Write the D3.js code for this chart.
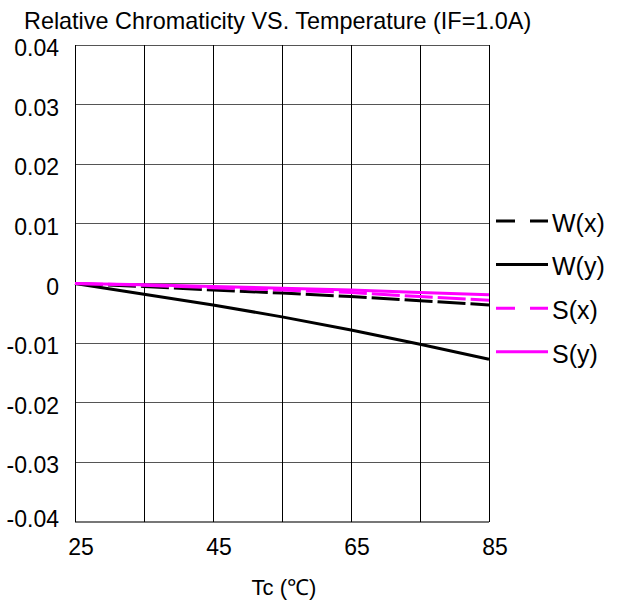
<!DOCTYPE html>
<html>
<head>
<meta charset="utf-8">
<script src="https://cdn.jsdelivr.net/npm/d3@7"></script>
<style>
  body { margin: 0; background: #fff; }
  text { font-family: "Liberation Sans", Arial, sans-serif; fill: #000; }
</style>
</head>
<body>
<div id="chart"></div>
<script>
// Relative chromaticity vs. case temperature

const temps = [25, 35, 45, 55, 65, 75, 85]
const wx = [0, -0.0005, -0.0011, -0.0016, -0.0022, -0.0029, -0.0036]
const wy = [0, -0.0018, -0.0036, -0.0056, -0.0078, -0.0102, -0.0127]
const sx = [0, -0.0003, -0.0007, -0.0011, -0.0015, -0.0022, -0.0028]
const sy = [0, -0.0002, -0.0005, -0.0008, -0.0011, -0.0015, -0.0019]

const xTicks = [25, 45, 65, 85]
const yTicks = [0.04, 0.03, 0.02, 0.01, 0, -0.01, -0.02, -0.03, -0.04]
const yLabels = ['0.04', '0.03', '0.02', '0.01', '0', '-0.01', '-0.02', '-0.03', '-0.04']

const series = [
    {name: 'W(x)', values: wx, color: '#000', dash: '28,5', legendDash: '19,15'},
    {name: 'W(y)', values: wy, color: '#000', dash: null, legendDash: null},
    {name: 'S(x)', values: sx, color: '#ff00ff', dash: '28,5', legendDash: '19,15'},
    {name: 'S(y)', values: sy, color: '#ff00ff', dash: null, legendDash: null}
]

const width = 621, height = 606
const margin = {top: 45, right: 132, bottom: 84, left: 75}
const plotW = width - margin.left - margin.right,
      plotH = height - margin.top - margin.bottom

const svg = d3.select('#chart').append('svg')
    .attr('width', width)
    .attr('height', height)

const g = svg.append('g')
    .attr('transform', `translate(${margin.left}, ${margin.top})`)

const x = d3.scaleLinear().domain([25, 85]).range([0, plotW])
const y = d3.scaleLinear().domain([-0.04, 0.04]).range([plotH, 0])

// horizontal grid
g.selectAll('.hgrid')
    .data(yTicks)
    .enter().append('line')
    .attr('x1', 0).attr('x2', plotW)
    .attr('y1', d => y(d)).attr('y2', d => y(d))
    .attr('stroke', d => d === -0.04 ? '#777' : '#555')
    .attr('stroke-width', d => d === -0.04 ? 2 : 1)
    .attr('shape-rendering', 'crispEdges')

// vertical grid every 10 degrees
g.selectAll('.vgrid')
    .data(d3.range(25, 86, 10))
    .enter().append('line')
    .attr('x1', d => x(d)).attr('x2', d => x(d))
    .attr('y1', 0).attr('y2', plotH)
    .attr('stroke', '#000')
    .attr('stroke-width', 1)
    .attr('shape-rendering', 'crispEdges')

// y labels
g.selectAll('.ylab')
    .data(yTicks)
    .enter().append('text')
    .attr('x', -16)
    .attr('y', (d, i) => y(d) + (i === yTicks.length - 1 ? -3 : 3))
    .attr('dy', '0.35em')
    .attr('text-anchor', 'end')
    .style('font-size', '23px')
    .text((d, i) => yLabels[i])

// x labels
g.selectAll('.xlab')
    .data(xTicks)
    .enter().append('text')
    .attr('x', d => x(d) + 6)
    .attr('y', plotH + 33)
    .attr('text-anchor', 'middle')
    .style('font-size', '23px')
    .text(d => d)

// curves
const line = d3.line()
    .x((d, i) => x(temps[i]))
    .y(d => y(d))

series.forEach(s => {
    g.append('path')
        .datum(s.values)
        .attr('fill', 'none')
        .attr('stroke', s.color)
        .attr('stroke-width', 3)
        .attr('stroke-dasharray', s.dash)
        .attr('d', line)
})

// legend
const legend = svg.append('g')
    .attr('transform', 'translate(496, 221)')

series.forEach((s, i) => {
    const row = legend.append('g').attr('transform', `translate(0, ${i * 43.6})`)
    row.append('line')
        .attr('x1', 0).attr('x2', 52)
        .attr('y1', 0).attr('y2', 0)
        .attr('stroke', s.color)
        .attr('stroke-width', 3)
        .attr('stroke-dasharray', s.legendDash)
    row.append('text')
        .attr('x', 56)
        .attr('y', 2)
        .attr('dy', '0.35em')
        .style('font-size', '25px')
        .text(s.name)
})

// title
svg.append('text')
    .attr('x', 24)
    .attr('y', 29)
    .style('font-size', '23.4px')
    .text('Relative Chromaticity VS. Temperature (IF=1.0A)')

// axis title
svg.append('text')
    .attr('x', margin.left + plotW / 2 + 2)
    .attr('y', 595)
    .attr('text-anchor', 'middle')
    .style('font-size', '22px')
    .text('Tc (℃)')
</script>
</body>
</html>
